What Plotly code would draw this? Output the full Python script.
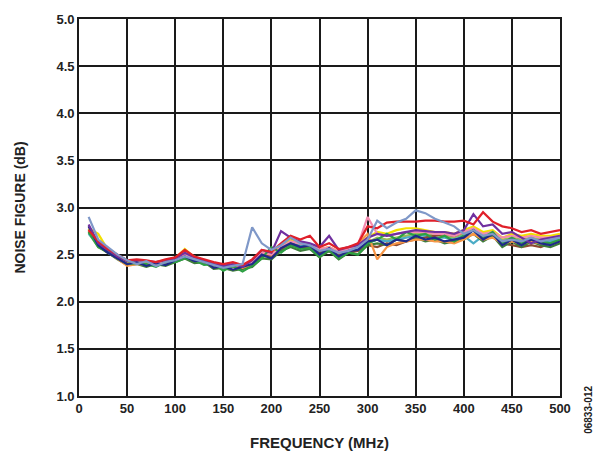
import plotly.graph_objects as go

freq = [10, 20, 30, 40, 50, 60, 70, 80, 90, 100, 110, 120, 130, 140, 150, 160, 170, 180, 190, 200,
        210, 220, 230, 240, 250, 260, 270, 280, 290, 300, 310, 320, 330, 340, 350, 360, 370, 380, 390, 400,
        410, 420, 430, 440, 450, 460, 470, 480, 490, 500]

s_navy = [2.80,2.60,2.52,2.46,2.40,2.42,2.38,2.41,2.39,2.44,2.48,2.43,2.44,2.36,2.38,2.34,2.37,2.40,2.50,2.46,
          2.57,2.62,2.58,2.60,2.50,2.57,2.48,2.54,2.55,2.64,2.66,2.60,2.66,2.64,2.70,2.66,2.68,2.64,2.66,2.68,
          2.76,2.66,2.72,2.60,2.66,2.60,2.66,2.62,2.60,2.64]
s_red = [2.76,2.64,2.56,2.50,2.44,2.45,2.44,2.42,2.45,2.47,2.55,2.48,2.45,2.42,2.40,2.42,2.39,2.45,2.55,2.53,
         2.62,2.70,2.66,2.70,2.58,2.62,2.56,2.58,2.62,2.80,2.78,2.84,2.85,2.85,2.85,2.86,2.86,2.85,2.85,2.86,
         2.82,2.95,2.85,2.80,2.78,2.74,2.76,2.72,2.74,2.76]
s_green = [2.74,2.58,2.53,2.46,2.40,2.41,2.40,2.37,2.42,2.42,2.46,2.44,2.39,2.40,2.33,2.38,2.32,2.38,2.46,2.58,
           2.52,2.60,2.56,2.57,2.48,2.55,2.46,2.52,2.50,2.62,2.66,2.72,2.66,2.74,2.70,2.72,2.66,2.70,2.64,2.70,
           2.76,2.68,2.74,2.62,2.68,2.62,2.66,2.64,2.62,2.66]
s_purple = [2.82,2.62,2.55,2.48,2.43,2.44,2.43,2.42,2.44,2.46,2.52,2.47,2.44,2.40,2.38,2.40,2.37,2.44,2.55,2.52,
            2.75,2.68,2.64,2.62,2.58,2.70,2.55,2.58,2.60,2.68,2.72,2.70,2.72,2.74,2.76,2.75,2.74,2.74,2.72,2.76,
            2.93,2.80,2.82,2.72,2.74,2.68,2.62,2.66,2.68,2.70]
s_cyan = [2.72,2.60,2.54,2.47,2.41,2.42,2.41,2.38,2.43,2.44,2.49,2.45,2.40,2.41,2.35,2.40,2.36,2.41,2.50,2.49,
          2.56,2.62,2.60,2.58,2.54,2.56,2.51,2.54,2.56,2.62,2.66,2.64,2.66,2.68,2.70,2.70,2.68,2.68,2.66,2.70,
          2.62,2.70,2.72,2.64,2.66,2.64,2.66,2.64,2.64,2.66]
s_orange = [2.76,2.60,2.53,2.45,2.38,2.40,2.40,2.40,2.44,2.47,2.52,2.48,2.44,2.40,2.38,2.40,2.36,2.40,2.52,2.50,
            2.60,2.66,2.62,2.60,2.55,2.58,2.52,2.55,2.62,2.72,2.45,2.58,2.62,2.64,2.66,2.66,2.64,2.64,2.62,2.66,
            2.72,2.66,2.68,2.62,2.64,2.62,2.64,2.62,2.62,2.64]
s_yellow = [2.78,2.72,2.55,2.48,2.42,2.43,2.42,2.42,2.44,2.46,2.56,2.47,2.43,2.40,2.38,2.40,2.37,2.42,2.52,2.51,
            2.60,2.66,2.63,2.60,2.56,2.58,2.53,2.56,2.60,2.68,2.74,2.72,2.76,2.78,2.78,2.76,2.74,2.74,2.72,2.76,
            2.80,2.74,2.76,2.68,2.72,2.70,2.72,2.70,2.70,2.72]
s_pink = [2.80,2.63,2.56,2.49,2.43,2.44,2.43,2.42,2.43,2.46,2.50,2.46,2.43,2.40,2.38,2.40,2.37,2.42,2.52,2.50,
          2.58,2.64,2.62,2.60,2.56,2.58,2.53,2.56,2.60,2.90,2.72,2.70,2.72,2.74,2.74,2.74,2.72,2.72,2.70,2.74,
          2.78,2.72,2.74,2.68,2.70,2.68,2.70,2.68,2.68,2.70]
s_dkgreen = [2.75,2.59,2.52,2.45,2.39,2.40,2.37,2.40,2.38,2.42,2.46,2.41,2.42,2.35,2.36,2.33,2.35,2.37,2.46,2.45,
             2.54,2.58,2.54,2.56,2.47,2.54,2.45,2.52,2.50,2.60,2.62,2.60,2.66,2.64,2.68,2.64,2.66,2.62,2.64,2.66,
             2.72,2.64,2.70,2.58,2.64,2.58,2.64,2.60,2.58,2.62]
s_brown = [2.77,2.61,2.54,2.47,2.41,2.42,2.41,2.40,2.42,2.45,2.49,2.45,2.42,2.39,2.36,2.38,2.35,2.40,2.49,2.49,
           2.56,2.62,2.58,2.57,2.52,2.54,2.49,2.52,2.54,2.60,2.58,2.62,2.60,2.64,2.66,2.68,2.70,2.72,2.70,2.74,
           2.76,2.68,2.70,2.62,2.60,2.58,2.60,2.58,2.62,2.64]
s_ltgreen = [2.73,2.58,2.52,2.46,2.40,2.41,2.40,2.40,2.41,2.43,2.47,2.44,2.41,2.38,2.36,2.37,2.35,2.39,2.48,2.48,
             2.55,2.60,2.58,2.56,2.52,2.54,2.50,2.52,2.55,2.63,2.68,2.66,2.68,2.70,2.72,2.72,2.70,2.70,2.68,2.72,
             2.76,2.72,2.74,2.66,2.68,2.66,2.68,2.66,2.66,2.68]
s_bluegrey = [2.90,2.66,2.58,2.50,2.44,2.40,2.43,2.38,2.42,2.44,2.48,2.45,2.42,2.39,2.36,2.38,2.40,2.79,2.62,2.55,
              2.60,2.68,2.62,2.60,2.54,2.56,2.52,2.54,2.58,2.66,2.86,2.78,2.84,2.88,2.97,2.94,2.88,2.84,2.80,2.72,
              2.76,2.70,2.72,2.64,2.66,2.64,2.68,2.64,2.66,2.68]

series = [
    (s_ltgreen, "#9BBB59"),
    (s_cyan, "#4BACC6"),
    (s_brown, "#8C4A2F"),
    (s_dkgreen, "#3E7D3A"),
    (s_orange, "#F79646"),
    (s_yellow, "#F2E000"),
    (s_pink, "#F28CB0"),
    (s_green, "#2EA043"),
    (s_navy, "#1F2A8A"),
    (s_purple, "#7030A0"),
    (s_red, "#E0202A"),
    (s_bluegrey, "#7F98C8"),
]

x_ticks = [0, 50, 100, 150, 200, 250, 300, 350, 400, 450, 500]
y_ticks = [1.0, 1.5, 2.0, 2.5, 3.0, 3.5, 4.0, 4.5, 5.0]

L, R, T, B = 79, 45, 14, 65
W, H = 605, 461

fig = go.Figure()
for vals, col in series:
    fig.add_trace(go.Scatter(x=freq, y=vals, mode="lines",
                             line=dict(color=col, width=2.2), showlegend=False))

fam = "Liberation Sans, Arial"
tick_font = dict(family=fam, size=13, color="#222222", weight="bold")
fig.update_layout(
    width=W, height=H,
    margin=dict(l=L, r=R, t=T, b=B),
    paper_bgcolor="white", plot_bgcolor="white",
    xaxis=dict(range=[0, 500], tickvals=x_ticks, ticktext=[str(v) for v in x_ticks],
               showgrid=True, gridcolor="#1a1a1a", gridwidth=1.6,
               showline=True, linecolor="#1a1a1a", linewidth=1.6, mirror=True,
               zeroline=False, ticks="", tickfont=tick_font,
               title=dict(text="FREQUENCY (MHz)", font=dict(family=fam, size=15,
                                                            color="#222222", weight="bold"), standoff=22)),
    yaxis=dict(range=[1.0, 5.0], tickvals=y_ticks, ticktext=[f"{v:.1f}" for v in y_ticks],
               showgrid=True, gridcolor="#1a1a1a", gridwidth=1.6,
               showline=True, linecolor="#1a1a1a", linewidth=1.6, mirror=True,
               zeroline=False, ticks="", tickfont=tick_font,
               title=dict(text="NOISE FIGURE (dB)", font=dict(family=fam, size=14,
                                                              color="#222222", weight="bold"), standoff=28)),
    annotations=[dict(text="06833-012",
                      x=(589 - L) / (W - L - R), y=(H - B - 410) / (H - B - T),
                      xref="paper", yref="paper", xanchor="center", yanchor="middle",
                      showarrow=False, textangle=-90,
                      font=dict(family=fam, size=10, color="#222222", weight="bold"))],
)

fig.write_html("out.html")
